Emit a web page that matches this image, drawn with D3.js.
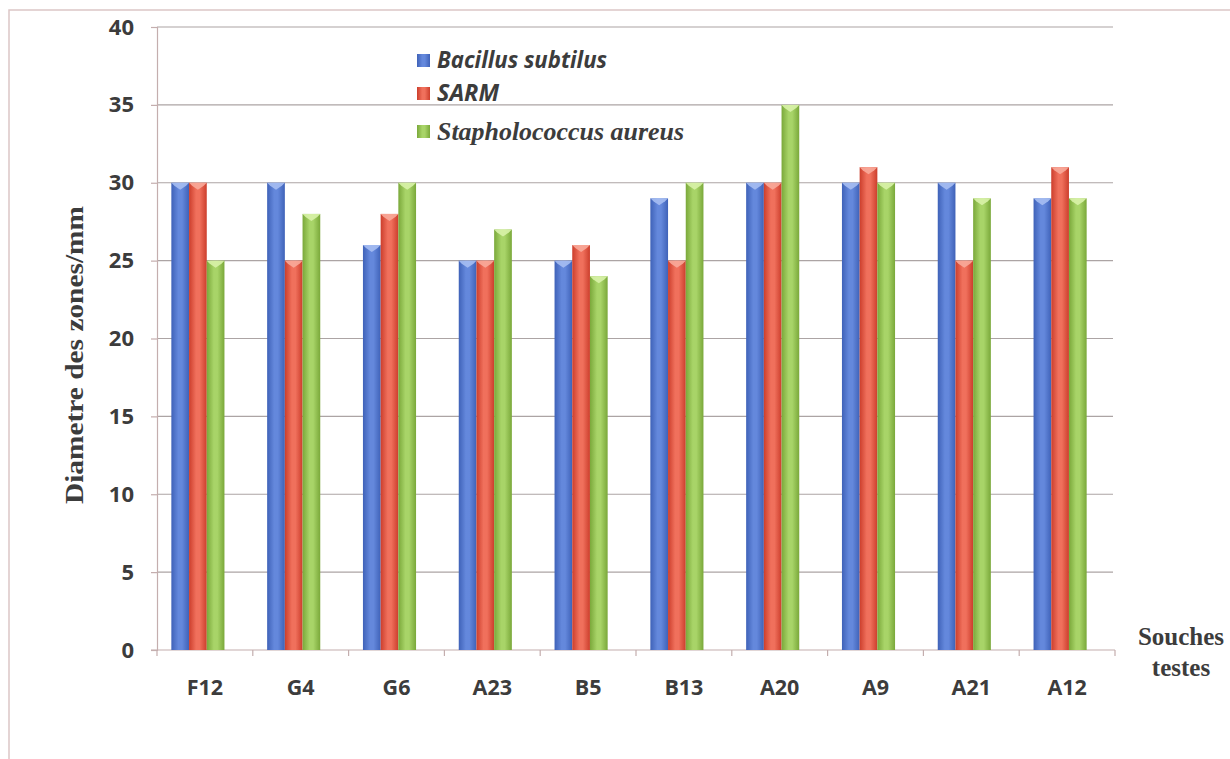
<!DOCTYPE html>
<html>
<head>
<meta charset="utf-8">
<script src="https://cdn.jsdelivr.net/npm/d3@7"></script>
<style>
  html, body { margin: 0; padding: 0; background: #fff; }
  svg { display: block; }
</style>
</head>
<body>
<svg id="chart" width="1230" height="759"></svg>
<script>
// Inhibition zone diameters (mm) per strain and test organism
const categories = ["F12", "G4", "G6", "A23", "B5", "B13", "A20", "A9", "A21", "A12"];
const seriesNames = ["Bacillus subtilus", "SARM", "Stapholococcus aureus"];
const bacillus = [30, 30, 26, 25, 25, 29, 30, 30, 30, 29];
const sarm     = [30, 25, 28, 25, 26, 25, 30, 31, 25, 31];
const staph    = [25, 28, 30, 27, 24, 30, 35, 30, 29, 29];
const yTicks = [0, 5, 10, 15, 20, 25, 30, 35, 40];

const seriesValues = [bacillus, sarm, staph];
const palette = [
  { dark: "#3f62b8", mid: "#6488dc", light: "#a6bef2" },
  { dark: "#cc3e2c", mid: "#f0705c", light: "#f8aa9a" },
  { dark: "#7aa83a", mid: "#a8d468", light: "#d8f2a8" }
];

const svg = d3.select("#chart");
const plotLeft = 157, plotRight = 1115, plotTop = 27, plotBottom = 650;

// frame around the chart area
svg.append("path")
  .attr("d", `M9,${759 + 5} L9,10 L${1230 + 5},10`)
  .attr("fill", "none").attr("stroke", "#dcc6c6").attr("stroke-width", 1.5);

const y = d3.scaleLinear().domain([0, 40]).range([plotBottom, plotTop]);
const x = d3.scaleBand().domain(categories).range([plotLeft, plotRight]).paddingInner(0).paddingOuter(0);
const barW = 17.7;
const xs = d3.scaleBand().domain(seriesNames).range([0, barW * 3]);
const groupShift = (x.bandwidth() - barW * 3) / 2 - 7;

// gradients
const defs = svg.append("defs");
palette.forEach((c, i) => {
  const g = defs.append("linearGradient").attr("id", "grad" + i)
    .attr("x1", 0).attr("x2", 1).attr("y1", 0).attr("y2", 0);
  g.append("stop").attr("offset", "0%").attr("stop-color", c.dark);
  g.append("stop").attr("offset", "40%").attr("stop-color", c.mid);
  g.append("stop").attr("offset", "60%").attr("stop-color", c.mid);
  g.append("stop").attr("offset", "100%").attr("stop-color", c.dark);
});

// gridlines
svg.append("g").selectAll("line").data(yTicks.filter(t => t > 0)).join("line")
  .attr("x1", plotLeft).attr("x2", plotRight - 2)
  .attr("y1", d => y(d)).attr("y2", d => y(d))
  .attr("stroke", "#aca4a4").attr("stroke-width", 1.2);

// y axis
const yAxis = svg.append("g").attr("transform", `translate(${plotLeft},0)`)
  .call(d3.axisLeft(y).tickValues(yTicks).tickSize(6).tickPadding(17));
yAxis.select(".domain").attr("stroke", "#c4aeae").attr("stroke-width", 1.2);
yAxis.selectAll(".tick line").attr("stroke", "#c4aeae").attr("stroke-width", 1.2);
yAxis.selectAll(".tick text")
  .attr("font-family", "'Open Sans', sans-serif").attr("font-weight", "bold")
  .attr("font-size", 22).attr("fill", "#3c3c3c");

// x axis
const xAxis = svg.append("g").attr("transform", `translate(0,${plotBottom})`)
  .call(d3.axisBottom(x).tickSize(0).tickPadding(30));
xAxis.select(".domain").remove();
xAxis.selectAll(".tick text")
  .attr("font-family", "'Open Sans', sans-serif").attr("font-weight", "bold")
  .attr("font-size", 21.5).attr("fill", "#3c3c3c");
svg.append("line").attr("x1", plotLeft - 6).attr("x2", plotRight).attr("y1", plotBottom).attr("y2", plotBottom)
  .attr("stroke", "#c4aeae").attr("stroke-width", 1.2);
svg.append("g").selectAll("line").data(d3.range(categories.length + 1)).join("line")
  .attr("x1", i => plotLeft + i * x.bandwidth()).attr("x2", i => plotLeft + i * x.bandwidth())
  .attr("y1", plotBottom).attr("y2", plotBottom + 6)
  .attr("stroke", "#c4aeae").attr("stroke-width", 1.2);

// bars
const bars = svg.append("g");
categories.forEach((cat, ci) => {
  seriesNames.forEach((s, si) => {
    const v = seriesValues[si][ci];
    const bx = x(cat) + groupShift + xs(s);
    const by = y(v);
    const w = xs.bandwidth();
    bars.append("rect")
      .attr("x", bx).attr("y", by).attr("width", w).attr("height", plotBottom - by)
      .attr("fill", `url(#grad${si})`);
    // bevelled cap
    bars.append("path")
      .attr("d", `M${bx},${by} L${bx + w},${by} L${bx + w - 3},${by + 3} L${bx + w / 2},${by + 7} L${bx + 3},${by + 3} Z`)
      .attr("fill", palette[si].light).attr("opacity", 0.9);
  });
});

// legend
const legend = svg.append("g");
const legendRows = [
  { y: 60, font: "'Open Sans', sans-serif", size: 22.5, len: 170 },
  { y: 93, font: "'Open Sans', sans-serif", size: 22.5, len: 62 },
  { y: 131, font: "'Liberation Serif', serif", size: 25, len: 247 }
];
seriesNames.forEach((s, i) => {
  const r = legendRows[i];
  legend.append("rect").attr("x", 417).attr("y", r.y - 6).attr("width", 13).attr("height", 13)
    .attr("fill", `url(#grad${i})`);
  legend.append("text").attr("x", 437).attr("y", r.y).attr("dy", "0.35em")
    .attr("font-family", r.font).attr("font-style", "italic").attr("font-weight", "bold")
    .attr("font-size", r.size).attr("fill", "#3c3c3c")
    .attr("textLength", r.len).attr("lengthAdjust", "spacingAndGlyphs")
    .text(s);
});

// axis titles
svg.append("text")
  .attr("transform", "translate(83,355) rotate(-90)")
  .attr("text-anchor", "middle")
  .attr("font-family", "'Liberation Serif', serif").attr("font-weight", "bold")
  .attr("font-size", 25).attr("fill", "#3c3c3c")
  .attr("textLength", 298).attr("lengthAdjust", "spacingAndGlyphs")
  .text("Diametre des zones/mm");
const xt = svg.append("text")
  .attr("text-anchor", "middle")
  .attr("font-family", "'Liberation Serif', serif").attr("font-weight", "bold")
  .attr("font-size", 25).attr("fill", "#3c3c3c");
xt.append("tspan").attr("x", 1181).attr("y", 645).text("Souches");
xt.append("tspan").attr("x", 1181).attr("y", 676).text("testes");
</script>
</body>
</html>
